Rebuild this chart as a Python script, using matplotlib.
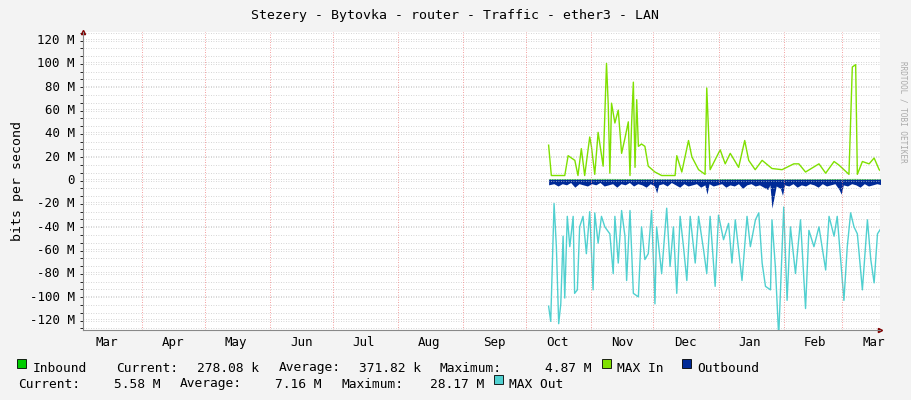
import matplotlib
matplotlib.use("Agg")
import matplotlib.pyplot as plt
import numpy as np
import datetime as dt
from matplotlib.patches import Rectangle

plt.rcParams['font.family'] = ['DejaVu Sans Mono']

title = "Stezery - Bytovka - router - Traffic - ether3 - LAN"
start = dt.datetime(2022, 10, 8, 12)

maxin_days = [3.5,4.8,11.2,12.8,16,17.5,19.1,20.7,23.1,23.9,25.5,27.1,29.5,31.1,31.9,32.7,33.5,35.1,36.7,38.3,39.9,41.5,42.3,43.1,43.9,44.7,45.5,46.3,47.8,49.4,51,54.2,57.4,63.8,64.6,67,70.2,71.8,75,78.1,78.9,80.5,85.3,87.7,90.1,94.1,97,98.9,102,105.3,110,114.8,120.4,122.8,126,132.4,135.6,139.6,141.9,146.7,148.3,149.9,150.7,153.1,156.3,158.7,161.1,162.4]
maxin_vals = [29,3,3,20,16,3,26,3,36,28,4,40,11,99,65,5,65,48,59,22,35,49,3,49,83,10,68,28,30,28,11,6,3,3,20,6,33,19,8,4,78,8,25,13,22,10,33,16,8,16,9,8,13,13,6,13,5,15,12,4,96,98,4,15,13,18,8,6]

maxout_days = [3.5,4.5,6.1,7.2,8.3,9.3,10.4,11.2,12.4,13.6,15.2,15.9,17.2,18.3,19.9,21.5,23.1,24.7,25.5,27.1,28.7,30.3,32.7,34.3,35.1,36.7,38.3,39.9,40.7,42.3,43.9,46.3,47.8,49.4,51,52.6,54.2,55,57.4,59.8,61.4,63,64.6,66.2,67.8,69.4,71,73.4,75,77.4,78.9,80.5,82.9,84.5,86.9,89.3,90.9,92.5,95.7,98.1,99.7,102.1,103.7,105.3,106.9,109.3,110,111.6,113.2,115.6,117.2,118.8,121.2,123.6,126,127.6,130,132.4,135.6,137.2,139.6,141.1,144.3,145.9,147.5,149.1,150.7,153.1,155.5,157.1,158.7,160.3,162.4]
maxout_vals = [-109,-122,-21,-58,-124,-107,-49,-102,-32,-58,-32,-98,-95,-41,-32,-64,-28,-95,-29,-55,-32,-41,-47,-81,-32,-72,-27,-49,-87,-27,-98,-101,-41,-69,-64,-27,-107,-41,-81,-25,-75,-41,-98,-32,-58,-87,-32,-72,-32,-61,-81,-32,-92,-31,-52,-38,-72,-35,-87,-32,-58,-35,-29,-72,-92,-95,-35,-75,-135,-24,-104,-41,-81,-35,-111,-44,-58,-41,-78,-32,-49,-32,-104,-58,-29,-41,-47,-95,-35,-69,-89,-47,-41]

out_days = [3.5,6,8,10,12,14,16,18,20,22,24,26,28,30,32,34,36,38,40,42,44,46,48,50,52,54,55,56,58,60,62,64,66,68,70,72,74,76,78,79,80,82,84,86,88,90,92,94,96,98,100,102,104,106,108,109,110,112,114,115,116,118,120,122,124,126,128,130,132,134,136,138,140,142,143,144,146,148,150,152,154,156,158,160,162.4]
out_vals = [-5,-4,-6,-4,-5,-3,-7,-4,-5,-6,-4,-5,-3,-6,-5,-4,-7,-4,-5,-3,-6,-4,-5,-7,-4,-6,-12,-5,-4,-6,-3,-5,-7,-4,-6,-5,-4,-7,-5,-13,-4,-6,-5,-4,-7,-5,-6,-4,-8,-5,-4,-6,-5,-7,-9,-5,-25,-6,-8,-14,-5,-6,-4,-7,-5,-6,-4,-5,-7,-4,-6,-5,-4,-9,-13,-5,-6,-4,-5,-7,-4,-6,-5,-4,-5]

in_days = [3.5,30,60,90,120,150,162.4]
in_vals = [0.4,0.5,0.3,0.4,0.3,0.5,0.3]

month_labels = ["Mar","Apr","May","Jun","Jul","Aug","Sep","Oct","Nov","Dec","Jan","Feb","Mar"]

def todates(days):
    return [start + dt.timedelta(days=d) for d in days]

fig = plt.figure(figsize=(9.11, 4.0), dpi=100, facecolor='#F3F3F3')
ax = fig.add_axes([83/911, 70/400, 797/911, 298/400])
ax.set_facecolor('white')

ax.fill_between(todates(out_days), out_vals, 0, color='#002A97', lw=0)
ax.fill_between(todates(in_days), in_vals, 0, color='#00CC00', lw=0)
ax.plot(todates(maxin_days), maxin_vals, color='#7FE000', lw=1)
ax.plot(todates(maxout_days), maxout_vals, color='#50D0D0', lw=1)

ax.set_xlim(dt.datetime(2022, 3, 4), dt.datetime(2023, 3, 19))
ax.set_ylim(-129.4, 126)

ax.set_yticks(np.arange(-120, 121, 20))
ax.set_yticklabels([("%d M" % v) if v != 0 else "0" for v in range(-120, 121, 20)])
ax.set_yticks(np.arange(-128, 126, 20/3), minor=True)
ax.yaxis.grid(True, which='both', color='#C8C8C8', ls=(0, (1, 2)), lw=0.6)

bounds = [dt.datetime(2022, m, 1) for m in range(4, 13)] + [dt.datetime(2023, m, 1) for m in range(1, 4)]
for b in bounds:
    ax.axvline(b, color='#F08080', ls=(0, (1, 2)), lw=0.6)
centers = [dt.datetime(2022, 3, 1) + dt.timedelta(days=14.5)] + \
    [dt.datetime(2022, m, 1) + dt.timedelta(days=15) for m in range(4, 13)] + \
    [dt.datetime(2023, m, 1) + dt.timedelta(days=15) for m in range(1, 4)]
ax.set_xticks(centers)
ax.set_xticklabels(month_labels)
ax.tick_params(axis='both', length=0, labelsize=9, colors='black', pad=4)
ax.tick_params(axis='y', pad=6)
for s in ['top', 'right']:
    ax.spines[s].set_visible(False)
for s in ['bottom', 'left']:
    ax.spines[s].set_color('#888888')
    ax.spines[s].set_linewidth(0.8)
ax.set_ylabel("bits per second", fontsize=9.5)
ax.plot(1.0, 0, '>', color='#800000', ms=3, transform=ax.transAxes, clip_on=False)
ax.plot(0, 1.0, '^', color='#800000', ms=3, transform=ax.transAxes, clip_on=False)

fig.text(455/911, 1 - 15/400, title, ha='center', va='center', fontsize=9.5)
fig.text(903/911, 0.72, "RRDTOOL / TOBI OETIKER", rotation=270, ha='center', va='center',
         fontsize=5.5, color='#AAAAAA')

def box(x, y, c):
    fig.patches.append(Rectangle((x/911, 1 - (y+5)/400), 9/911, 9/400, transform=fig.transFigure,
                                 facecolor=c, edgecolor='black', lw=0.6))

fs = 9.3
def t(x, y, s):
    fig.text(x/911, 1 - y/400, s, va='center', fontsize=fs)

y1, y2 = 368, 384
box(17, y1 - 5, '#00CC00')
for x, s in [(33, "Inbound"), (116, "Current:"), (197, "278.08 k"), (279, "Average:"),
             (359, "371.82 k"), (440, "Maximum:"), (545, "4.87 M"), (617, "MAX In"), (697, "Outbound")]:
    t(x, y1, s)
box(602, y1 - 5, '#7FE000')
box(682, y1 - 5, '#002A97')
for x, s in [(18, "Current:"), (114, "5.58 M"), (180, "Average:"), (275, "7.16 M"),
             (342, "Maximum:"), (430, "28.17 M"), (509, "MAX Out")]:
    t(x, y2, s)
box(494, y2 - 5, '#50D0D0')

fig.savefig("out.png", dpi=100, facecolor=fig.get_facecolor())
